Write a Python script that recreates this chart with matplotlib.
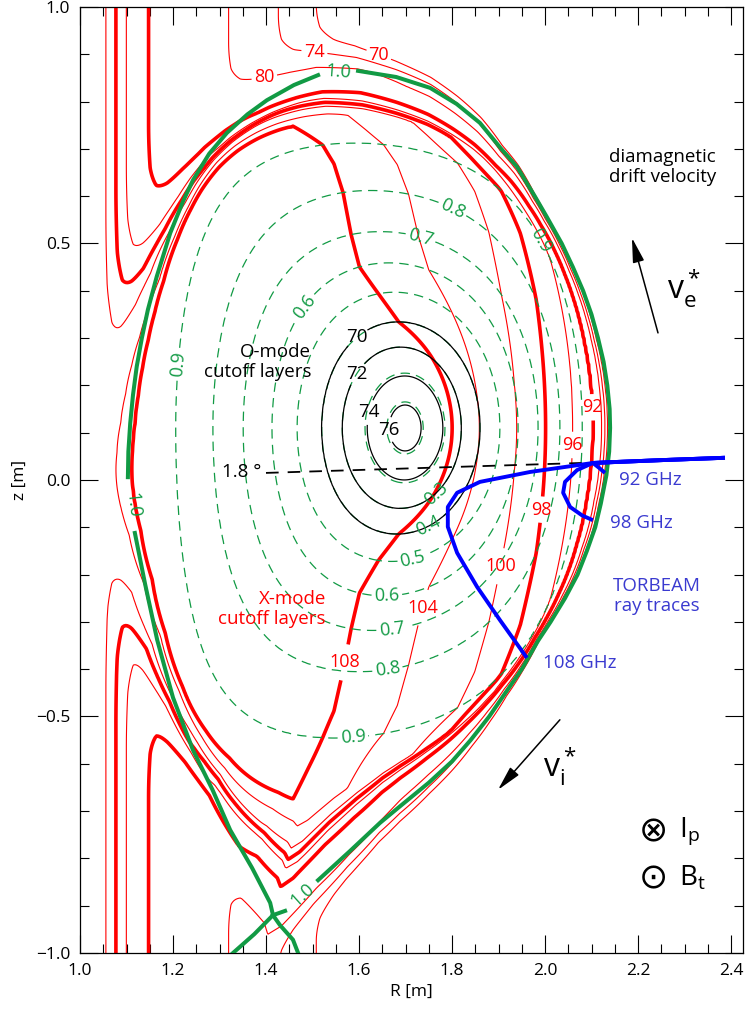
import numpy as np
import matplotlib.pyplot as plt
from matplotlib.ticker import MultipleLocator

plt.rcParams['font.family'] = ['Open Sans', 'DejaVu Sans']
plt.rcParams['mathtext.default'] = 'regular'

# magnetic axis [m]
axis_R, axis_z = 1.70, 0.11

# dashed flux surfaces (rho_pol): inner/outer midplane radius, top/bottom height, shape
rho_lev = [0.1, 0.2, 0.3, 0.4, 0.5, 0.6, 0.7, 0.8, 0.9]
R_in = [1.660, 1.613, 1.564, 1.520, 1.467, 1.413, 1.351, 1.286, 1.206]
R_out = [1.738, 1.785, 1.820, 1.860, 1.903, 1.942, 1.985, 2.032, 2.080]
z_top = [0.165, 0.226, 0.281, 0.334, 0.397, 0.459, 0.525, 0.612, 0.712]
z_bot = [0.055, -0.006, -0.060, -0.114, -0.172, -0.245, -0.318, -0.405, -0.545]
tri_up = [0.0, 0.01, 0.02, 0.03, 0.04, 0.05, 0.07, 0.09, 0.12]
tri_lo = [0.0, 0.02, 0.03, 0.05, 0.07, 0.09, 0.12, 0.16, 0.22]
square = [0.0, 0.0, 0.01, 0.02, 0.03, 0.05, 0.07, 0.10, 0.15]

# separatrix (rho = 1.0), clockwise from the top label
sep_R = [1.598, 1.680, 1.753, 1.810, 1.860, 1.906, 1.940, 1.978, 2.004, 2.036,
         2.060, 2.082, 2.100, 2.114, 2.126, 2.134, 2.139, 2.140, 2.138, 2.132,
         2.120, 2.108, 2.090, 2.070, 2.043, 2.012, 1.985, 1.950, 1.915, 1.880,
         1.840, 1.800, 1.750, 1.688, 1.645, 1.580, 1.512,
         1.441, 1.415, 1.409, 1.370, 1.323, 1.285, 1.243, 1.200, 1.166,
         1.140, 1.118,
         1.103, 1.104, 1.108, 1.114, 1.122, 1.133, 1.146, 1.165, 1.194, 1.222,
         1.243, 1.278, 1.316, 1.360, 1.402, 1.460, 1.512]
sep_z = [0.865, 0.852, 0.829, 0.795, 0.755, 0.700, 0.662, 0.600, 0.556, 0.500,
         0.450, 0.400, 0.350, 0.300, 0.250, 0.200, 0.150, 0.110, 0.060, 0.010,
         -0.050, -0.100, -0.150, -0.200, -0.250, -0.300, -0.340, -0.400, -0.450, -0.500,
         -0.550, -0.595, -0.640, -0.690, -0.725, -0.785, -0.846,
         -0.911, -0.920, -0.894, -0.820, -0.740, -0.655, -0.571, -0.460, -0.338,
         -0.220, -0.112,
         0.006, 0.060, 0.120, 0.180, 0.240, 0.300, 0.360, 0.430, 0.522, 0.590,
         0.634, 0.690, 0.734, 0.773, 0.803, 0.835, 0.856]
sep_breaks = [37, 48]          # gaps for the inline "1.0" labels
leg1_R = [1.415, 1.430, 1.458, 1.469]
leg1_z = [-0.920, -0.941, -0.972, -1.000]
leg2_R = [1.415, 1.375, 1.329]
leg2_z = [-0.920, -0.960, -1.000]

# plasma frequency profile [GHz] inside, and in the scrape-off layer vs distance [m]
prof_rho = [0.0, 0.1, 0.2, 0.3, 0.4, 0.5, 0.6, 0.7, 0.8, 0.86, 0.9, 0.94, 0.97, 0.98, 0.99, 1.0]
prof_fpe = [77.5, 75.8, 73.8, 72.0, 70.0, 68.7, 67.4, 66.8, 66.2, 65.5, 64.6, 62.0, 49.0, 43.0, 38.0, 35.0]
sol_d = [0.0, 0.01, 0.02, 0.03, 0.05, 0.07, 0.10, 0.15]
sol_fpe = [35.0, 31.0, 27.0, 23.5, 17.0, 11.0, 5.0, 0.0]

# toroidal field
Bt0, R0 = 2.285, 1.65

# contour levels
red_levels = [70, 74, 80, 92, 96, 98, 100, 104, 108]
red_thick = [92, 98, 108]
omode_levels = [70, 72, 74, 76]

# TORBEAM rays
ray92_R = [2.387, 2.250, 2.150, 2.103, 2.116, 2.129]
ray92_z = [0.047, 0.042, 0.038, 0.036, 0.026, 0.015]
ray98_R = [2.387, 2.250, 2.150, 2.103, 2.069, 2.043, 2.039, 2.054, 2.080, 2.103]
ray98_z = [0.047, 0.042, 0.038, 0.036, 0.021, -0.004, -0.027, -0.057, -0.075, -0.085]
ray108_R = [2.387, 2.250, 2.103, 1.968, 1.860, 1.811, 1.791, 1.791, 1.811, 1.854, 1.903, 1.961]
ray108_z = [0.047, 0.042, 0.036, 0.017, -0.004, -0.027, -0.057, -0.099, -0.154, -0.226, -0.296, -0.376]

# label positions
green_labels = [(1.204, 0.247), (1.484, 0.366), (1.735, 0.522), (1.80, 0.571), (1.983, 0.501),
                (1.753, -0.015), (1.742, -0.085), (1.716, -0.169), (1.66, -0.247),
                (1.671, -0.321), (1.662, -0.406), (1.587, -0.545)]
red_labels = {70: (1.65, 0.92), 74: (1.51, 0.94), 80: (1.39, 0.89), 92: (2.108, 0.154),
              96: (2.06, 0.074), 98: (1.996, -0.063), 100: (1.892, -0.18),
              104: (1.731, -0.268), 108: (1.576, -0.387)}
black_labels = {70: (1.606, 0.29), 72: (1.606, 0.218), 74: (1.60, 0.148), 76: (1.656, 0.106)}

GREEN = '#119a44'
BLUE = '#0000ff'
TXTBLUE = '#3a3ad0'
FS = 13.5


def miller(k, t):
    Rc = 0.5 * (R_in[k] + R_out[k])
    a = 0.5 * (R_out[k] - R_in[k])
    upper = np.sin(t) >= 0
    tri = np.where(upper, tri_up[k], tri_lo[k])
    h = np.where(upper, z_top[k] - axis_z, axis_z - z_bot[k])
    R = Rc + a * np.cos(t + tri * np.sin(t))
    z = axis_z + h * np.sin(t + square[k] * np.sin(2 * t))
    return R, z


def radius_along(Rs, zs, phi):
    Rs, zs = np.asarray(Rs), np.asarray(zs)
    ang = np.arctan2(zs - axis_z, Rs - axis_R)
    rad = np.hypot(Rs - axis_R, zs - axis_z)
    order = np.argsort(ang)
    return np.interp(phi, ang[order], rad[order], period=2 * np.pi)


# build rho and frequency maps on a grid
RR, ZZ = np.meshgrid(np.linspace(1.035, 2.43, 420), np.linspace(-1.0, 1.0, 620))
phi = np.arctan2(ZZ - axis_z, RR - axis_R)
r = np.hypot(RR - axis_R, ZZ - axis_z)
t = np.linspace(0, 2 * np.pi, 721)
radii = [np.zeros_like(r)] + [radius_along(*miller(k, t), phi) for k in range(len(rho_lev))]
radii.append(radius_along(sep_R, sep_z, phi))
rhos = [0.0] + rho_lev + [1.0]

d_sol = r - radii[-1]
rho = 1.0 + np.clip(d_sol, 0, None)
for k in range(len(rhos) - 1):
    lo, hi = radii[k], radii[k + 1]
    m = (r >= lo) & (r < hi)
    rho[m] = rhos[k] + (rhos[k + 1] - rhos[k]) * (r[m] - lo[m]) / (hi[m] - lo[m])

fpe = np.where(d_sol >= 0, np.interp(d_sol, sol_d, sol_fpe), np.interp(rho, prof_rho, prof_fpe))
fce = 28.0 * Bt0 * R0 / RR
fR = 0.5 * fce + np.sqrt(0.25 * fce ** 2 + fpe ** 2)

fig = plt.figure(figsize=(7.45, 10.10), dpi=100)
ax = fig.add_axes([80 / 745, 1 - 953 / 1010, 663 / 745, 946 / 1010])

# X-mode cutoff layers (one contour set per level so each label lands on its own line)
label_texts = []
for lv in red_levels:
    cs = ax.contour(RR, ZZ, fR, levels=[lv], colors='red',
                    linewidths=2.6 if lv in red_thick else 0.8, zorder=2)
    label_texts += cs.clabel(manual=[red_labels[lv]], fmt='%d', inline=True,
                             inline_spacing=3, fontsize=13)

# flux surfaces
cs_g = ax.contour(RR, ZZ, rho, levels=rho_lev, colors=GREEN, linewidths=0.9, zorder=2)
cs_g.set_linestyle((0, (7.5, 5)))
cs_g.clabel(manual=green_labels, fmt='%.1f', inline=True, inline_spacing=3, fontsize=13)

# O-mode cutoff layers
for lv in omode_levels:
    cs = ax.contour(RR, ZZ, fpe, levels=[lv], colors='black', linewidths=0.9, zorder=2)
    label_texts += cs.clabel(manual=[black_labels[lv]], fmt='%d', inline=True,
                             inline_spacing=2, fontsize=13.5)

for txt in label_texts:
    txt.set_rotation(0)

# separatrix with X-point legs
for seg in np.split(np.column_stack([sep_R, sep_z]), sep_breaks):
    ax.plot(seg[:, 0], seg[:, 1], color=GREEN, lw=2.9, zorder=3)
ax.plot(leg1_R, leg1_z, color=GREEN, lw=2.9, zorder=3)
ax.plot(leg2_R, leg2_z, color=GREEN, lw=2.9, zorder=3)
ax.text(1.555, 0.862, '1.0', color=GREEN, fontsize=13, ha='center', va='center', rotation=-4)
ax.text(1.114, -0.053, '1.0', color=GREEN, fontsize=13, ha='center', va='center', rotation=-84)
ax.text(1.478, -0.878, '1.0', color=GREEN, fontsize=13, ha='center', va='center', rotation=42)

# line of sight (1.8 deg)
ax.plot([1.40, 2.11], [0.015, 0.037], color='black', lw=1.3, ls=(0, (7, 5)), zorder=3)
ax.text(1.39, 0.017, '1.8 °', fontsize=FS, ha='right', va='center')

# ray traces
for Rs, zs in [(ray108_R, ray108_z), (ray98_R, ray98_z), (ray92_R, ray92_z)]:
    ax.plot(Rs, zs, color=BLUE, lw=2.8, zorder=4, solid_capstyle='butt')
ax.text(2.159, 0.0, '92 GHz', color=TXTBLUE, fontsize=FS, va='center')
ax.text(2.14, -0.09, '98 GHz', color=TXTBLUE, fontsize=FS, va='center')
ax.text(1.996, -0.387, '108 GHz', color=TXTBLUE, fontsize=FS, va='center')
ax.text(2.24, -0.245, 'TORBEAM\nray traces', color=TXTBLUE, fontsize=FS,
        ha='center', va='center', linespacing=1.15)

# annotations
ax.text(1.497, 0.25, 'O-mode\ncutoff layers', fontsize=FS, ha='right', va='center',
        multialignment='right', linespacing=1.15)
ax.text(1.529, -0.273, 'X-mode\ncutoff layers', color='red', fontsize=FS, ha='right',
        va='center', multialignment='right', linespacing=1.15)
ax.text(2.138, 0.662, 'diamagnetic\ndrift velocity', fontsize=FS, ha='left', va='center',
        linespacing=1.15)
ax.annotate('', xy=(2.187, 0.512), xytext=(2.243, 0.311),
            arrowprops=dict(arrowstyle='-|>,head_length=1.5,head_width=0.35', color='black',
                            lw=1.1, shrinkA=0, shrinkB=0))
ax.annotate('', xy=(1.899, -0.655), xytext=(2.032, -0.507),
            arrowprops=dict(arrowstyle='-|>,head_length=1.5,head_width=0.35', color='black',
                            lw=1.1, shrinkA=0, shrinkB=0))
ax.text(2.262, 0.405, r'$v_e^*$', fontsize=23, va='center')
ax.text(1.995, -0.605, r'$v_i^*$', fontsize=23, va='center')
ax.text(2.234, -0.742, '⊗', fontsize=25, ha='center', va='center', family=['DejaVu Sans'])
ax.text(2.288, -0.742, r'$I_p$', fontsize=20, va='center')
ax.text(2.234, -0.842, '⊙', fontsize=25, ha='center', va='center', family=['DejaVu Sans'])
ax.text(2.288, -0.842, r'$B_t$', fontsize=20, va='center')

# axes
ax.set_xlim(1.0, 1.0 + 663 / 465)
ax.set_ylim(-1.0, 1.0)
xt = [1.0, 1.2, 1.4, 1.6, 1.8, 2.0, 2.2, 2.4]
yt = [-1.0, -0.5, 0.0, 0.5, 1.0]
ax.set_xticks(xt)
ax.set_xticklabels(['%.1f' % v for v in xt])
ax.set_yticks(yt)
ax.set_yticklabels(['%.1f' % v if v >= 0 else '\u2212%.1f' % -v for v in yt])
ax.xaxis.set_minor_locator(MultipleLocator(0.05))
ax.yaxis.set_minor_locator(MultipleLocator(0.1))
ax.tick_params(which='both', direction='in', top=True, right=True, width=0.8, labelsize=12.5)
ax.tick_params(which='major', length=13, pad=7)
ax.tick_params(which='minor', length=6.5)
for sp in ax.spines.values():
    sp.set_linewidth(0.9)
ax.set_xlabel('R [m]', fontsize=12.5, labelpad=4)
ax.set_ylabel('z [m]', fontsize=12.5, labelpad=6)

fig.savefig('out.png', dpi=100)
